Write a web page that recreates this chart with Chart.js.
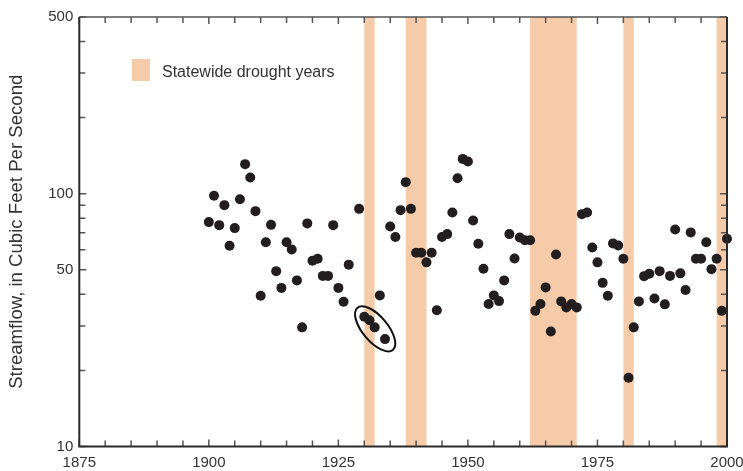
<!DOCTYPE html>
<html>
<head>
<meta charset="utf-8">
<script src="https://cdn.jsdelivr.net/npm/chart.js@4/dist/chart.umd.min.js"></script>
<style>
  html, body { margin: 0; padding: 0; background: #fff; }
  #wrap { width: 743px; height: 471px; }
</style>
</head>
<body>
<div id="wrap"><canvas id="flowChart" width="743" height="471"></canvas></div>
<script>
// annual streamflow, cubic feet per second (1928 missing)
const years = [];
for (let y = 1900; y <= 2000; y++) years.push(y);

const flow = [
  77.2, 98.1, 75.1, 90.1, 62.2, 73.1, 95.1, 130.9, 115.9, 85.3,
  39.5, 64.3, 75.3, 49.4, 42.4, 64.3, 60.2, 45.4, 29.6, 76.3,
  54.3, 55.3, 47.3, 47.3, 75.1, 42.4, 37.4, 52.4, null, 87.1,
  32.6, 31.6, 29.6, 39.6, 26.6, 74.2, 67.4, 86.1, 111.1, 87.1,
  58.4, 58.4, 53.5, 58.4, 34.6, 67.4, 69.2, 84.3, 115.2, 137.3,
  134.1, 78.4, 63.4, 50.5, 36.6, 39.6, 37.6, 45.4, 69.2, 55.4,
  67.1, 65.4, 65.4, 34.4, 36.6, 42.6, 28.5, 57.5, 37.5, 35.5,
  36.6, 35.5, 83.0, 84.3, 61.3, 53.5, 44.4, 39.5, 63.6, 62.4,
  55.3, 18.7, 29.6, 37.5, 47.2, 48.2, 38.5, 49.4, 36.5, 47.3,
  72.2, 48.4, 41.6, 70.3, 55.3, 55.3, 64.3, 50.3, 55.3, 34.4,
  66.3
];

// statewide drought periods
const droughtStart = [1930, 1938, 1962, 1980, 1998];
const droughtEnd = [1932, 1942, 1971, 1982, 2000];

// axis ticks
const xTicks = [];
for (let y = 1875; y <= 2000; y += 5) xTicks.push(y);
const xLabels = [1875, 1900, 1925, 1950, 1975, 2000];
const yTicks = [10, 20, 30, 40, 50, 60, 70, 80, 90, 100, 200, 300, 400, 500];
const yLabels = [10, 50, 100, 500];

// circled low years
const circleCenter = { year: 1932.1, flow: 29.2 };

const FONT = '"Liberation Sans", Arial, Helvetica, sans-serif';
const BAND = '#f6cbaa';
const INK = '#333333';

const points = years.map((y, i) => ({ x: y, y: flow[i] })).filter(p => p.y !== null);

const droughtBands = {
  id: 'droughtBands',
  beforeDatasetsDraw(chart) {
    const { ctx, chartArea, scales } = chart;
    ctx.save();
    ctx.fillStyle = BAND;
    droughtStart.forEach((s, i) => {
      const x0 = scales.x.getPixelForValue(s);
      const x1 = scales.x.getPixelForValue(droughtEnd[i]);
      ctx.fillRect(x0, chartArea.top, x1 - x0, chartArea.bottom - chartArea.top);
    });
    ctx.restore();
  }
};

const frameTicks = {
  id: 'frameTicks',
  afterDatasetsDraw(chart) {
    const { ctx, chartArea: a, scales } = chart;
    ctx.save();

    // circle round the early-1930s lows
    const cx = scales.x.getPixelForValue(circleCenter.year);
    const cy = scales.y.getPixelForValue(circleCenter.flow);
    ctx.strokeStyle = '#111';
    ctx.lineWidth = 2;
    ctx.beginPath();
    ctx.ellipse(cx, cy, 27.5, 12.5, 50 * Math.PI / 180, 0, Math.PI * 2);
    ctx.stroke();

    // inward ticks on all four sides
    ctx.strokeStyle = '#555';
    ctx.lineWidth = 1.5;
    ctx.beginPath();
    xTicks.forEach(v => {
      const x = scales.x.getPixelForValue(v);
      const len = xLabels.includes(v) ? 7 : 6;
      ctx.moveTo(x, a.bottom); ctx.lineTo(x, a.bottom - len);
      ctx.moveTo(x, a.top); ctx.lineTo(x, a.top + len);
    });
    yTicks.forEach(v => {
      const y = scales.y.getPixelForValue(v);
      const len = yLabels.includes(v) ? 7 : 6;
      ctx.moveTo(a.left, y); ctx.lineTo(a.left + len, y);
      ctx.moveTo(a.right, y); ctx.lineTo(a.right - len, y);
    });
    ctx.stroke();

    // frame
    ctx.strokeStyle = '#555';
    ctx.lineWidth = 1.3;
    ctx.beginPath();
    ctx.moveTo(a.left, a.top); ctx.lineTo(a.right, a.top);
    ctx.stroke();
    ctx.strokeStyle = '#2a2a2a';
    ctx.lineWidth = 2;
    ctx.beginPath();
    ctx.moveTo(a.left, a.top); ctx.lineTo(a.left, a.bottom); ctx.lineTo(a.right, a.bottom); ctx.lineTo(a.right, a.top);
    ctx.stroke();

    // legend
    ctx.fillStyle = BAND;
    ctx.fillRect(132, 59, 18, 22);
    ctx.fillStyle = INK;
    ctx.font = '16px ' + FONT;
    ctx.textBaseline = 'alphabetic';
    ctx.fillText('Statewide drought years', 162, 77);

    ctx.restore();
  }
};

const flowChart = new Chart(document.getElementById('flowChart'), {
  type: 'scatter',
  data: {
    datasets: [{
      data: points,
      backgroundColor: '#221e1f',
      borderWidth: 0,
      pointRadius: 5,
      pointHoverRadius: 5,
      clip: false
    }]
  },
  options: {
    responsive: false,
    animation: false,
    events: [],
    layout: { padding: { top: 17, right: 16, left: 0, bottom: 0 } },
    plugins: { legend: { display: false }, tooltip: { enabled: false } },
    scales: {
      x: {
        type: 'linear',
        min: 1875,
        max: 2000,
        afterBuildTicks: s => { s.ticks = xTicks.map(v => ({ value: v })); },
        afterFit: s => { s.height = 24.5; s.paddingLeft = 0; s.paddingRight = 0; },
        grid: { display: false, drawTicks: false },
        border: { display: false },
        ticks: {
          autoSkip: false,
          maxRotation: 0,
          padding: 7,
          color: INK,
          font: { family: FONT, size: 15 },
          callback: v => xLabels.includes(v) ? String(v) : ''
        }
      },
      y: {
        type: 'logarithmic',
        min: 10,
        max: 500,
        afterBuildTicks: s => { s.ticks = yTicks.map(v => ({ value: v })); },
        afterFit: s => { s.width = 79.3; s.paddingTop = 0; s.paddingBottom = 0; },
        grid: { display: false, drawTicks: false },
        border: { display: false },
        ticks: {
          autoSkip: false,
          padding: 6,
          color: INK,
          font: { family: FONT, size: 15 },
          callback: v => yLabels.includes(v) ? String(v) : ''
        },
        title: {
          display: true,
          text: 'Streamflow, in Cubic Feet Per Second',
          color: INK,
          font: { family: FONT, size: 18.6 },
          padding: { top: 6, bottom: 0 }
        }
      }
    }
  },
  plugins: [droughtBands, frameTicks]
});
</script>
</body>
</html>
